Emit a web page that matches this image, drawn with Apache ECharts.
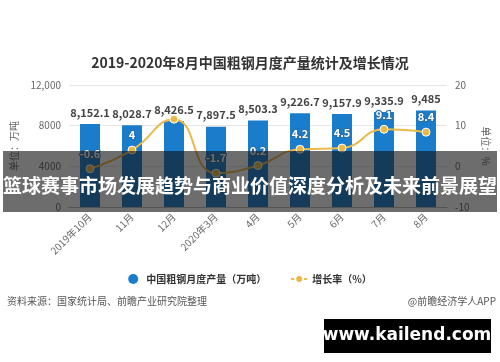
<!DOCTYPE html>
<html><head><meta charset="utf-8">
<script src="https://cdn.jsdelivr.net/npm/echarts@6/dist/echarts.min.js"></script>
<style>html,body{margin:0;padding:0;background:#fff}#c{width:500px;height:362px}</style>
</head><body><div id="c"></div>
<script>
const categories = ['2019年10月','11月','12月','2020年3月','4月','5月','6月','7月','8月'];
const output = [8152.1, 8028.7, 8426.5, 7897.5, 8503.3, 9226.7, 9157.9, 9335.9, 9485];
const growth = [-0.6, 4, 11.6, -1.7, 0.2, 4.2, 4.5, 9.1, 8.4];
const hiddenGrowthLabels = ['12月'];
const leftTicks = [0, 4000, 8000, 12000];
const rightTicks = [-10, 0, 10, 20];
const titleText = '2019-2020年8月中国粗钢月度产量统计及增长情况';
const sourceText = '资料来源：国家统计局、前瞻产业研究院整理';
const creditText = '@前瞻经济学人APP';
const bannerText = '篮球赛事市场发展趋势与商业价值深度分析及未来前景展望';
const watermarkText = 'www.kailend.com';

const fmt = v => new Intl.NumberFormat('en-US',{maximumFractionDigits:1}).format(v);
const chart = echarts.init(document.getElementById('c'));
const font = '"Noto Sans CJK SC", "Noto Sans", sans-serif';
chart.setOption({
  animation:false,
  textStyle:{fontFamily:font},
  title:{text:titleText,left:'center',top:51,textStyle:{fontSize:14,fontWeight:'bold',color:'#333',fontFamily:font}},
  grid:{left:69,right:53,top:85,bottom:155},
  legend:{bottom:73,left:'center',itemGap:24,itemWidth:16,itemHeight:10,
    textStyle:{fontSize:10,color:'#333',fontWeight:'bold'},
    data:[{name:'中国粗钢月度产量（万吨）',icon:'circle'},{name:'增长率（%）'}]},
  xAxis:{type:'category',data:categories,
    axisTick:{alignWithLabel:true,lineStyle:{color:'#bbb'}},
    axisLine:{lineStyle:{color:'#bbb'}},
    axisLabel:{rotate:45,fontSize:10,color:'#666',interval:0,margin:8}},
  yAxis:[
    {type:'value',min:leftTicks[0],max:leftTicks[3],interval:4000,
     name:'单位：万吨',nameLocation:'middle',nameGap:45,nameRotate:90,
     nameTextStyle:{fontSize:10,color:'#666'},
     axisLabel:{fontSize:10,color:'#666',formatter:v=>v>=10000?fmt(v):String(v)},
     splitLine:{lineStyle:{color:'#e6e6e6'}},axisLine:{show:false},axisTick:{show:false}},
    {type:'value',min:rightTicks[0],max:rightTicks[3],interval:10,
     name:'单位：%',nameLocation:'middle',nameGap:26,nameRotate:-90,
     nameTextStyle:{fontSize:10,color:'#666'},
     axisLabel:{fontSize:10,color:'#666'},
     splitLine:{show:false},axisLine:{show:false},axisTick:{show:false}}
  ],
  series:[
    {name:'中国粗钢月度产量（万吨）',type:'bar',data:output,barWidth:20,
     itemStyle:{color:'#1a7dcc'},
     label:{show:true,position:'top',distance:6,fontSize:11,fontWeight:'bold',color:'#444',formatter:p=>fmt(p.value)}},
    {name:'增长率（%）',type:'line',yAxisIndex:1,
     data:growth.map((v,i)=>hiddenGrowthLabels.includes(categories[i])?{value:v,label:{show:false}}:v),
     smooth:true,symbol:'circle',symbolSize:8,
     lineStyle:{color:'#e9b949',width:2},itemStyle:{color:'#e9b949',borderColor:'#fff',borderWidth:1},
     label:{show:true,position:'top',distance:5,fontSize:11,fontWeight:'bold',color:'#fff',
       textBorderColor:'#2a6fa8',textBorderWidth:2}}
  ],
  graphic:[
    {type:'text',left:7,top:296,style:{text:sourceText,fontSize:10,fill:'#555',fontFamily:font}},
    {type:'text',right:4,top:296,style:{text:creditText,fontSize:10,fill:'#555',fontFamily:font}},
    {type:'rect',z:100,shape:{x:3,y:151,width:494,height:61},style:{fill:'rgba(20,20,20,0.62)'}},
    {type:'text',z:101,x:250,y:186,style:{text:bannerText,fontSize:19,fontWeight:'bold',fill:'#fff',
      align:'center',verticalAlign:'middle',fontFamily:font}},
    {type:'rect',z:100,shape:{x:324,y:319,width:167,height:34},style:{fill:'#000'}},
    {type:'text',z:101,x:407,y:336,style:{text:watermarkText,fontSize:17,fontWeight:'bold',fill:'#fff',
      align:'center',verticalAlign:'middle',fontFamily:'"DejaVu Sans", sans-serif'}}
  ]
});
</script></body></html>
